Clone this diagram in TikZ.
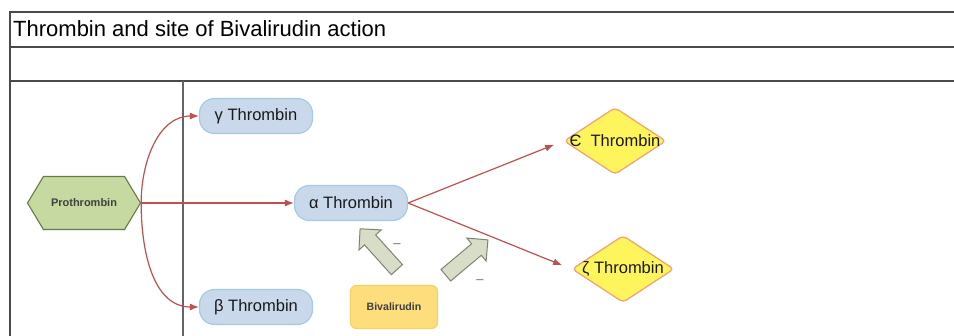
\documentclass[tikz,border=0pt]{standalone}
\usepackage{fontspec}
\setmainfont{Liberation Sans}
\usepackage{xcolor}
\usetikzlibrary{shapes,arrows.meta,positioning}

\definecolor{thrblue}{HTML}{C9D8EA}
\definecolor{thrblueline}{HTML}{A4CCE0}
\definecolor{progreen}{HTML}{C5D9A0}
\definecolor{progreenline}{HTML}{667A45}
\definecolor{bivyellow}{HTML}{FDDD7C}
\definecolor{bivline}{HTML}{F6D35E}
\definecolor{diayellow}{HTML}{FEF45C}
\definecolor{dialine}{HTML}{F0A072}
\definecolor{arrred}{HTML}{C0504D}
\definecolor{blockfill}{HTML}{D7DDC7}
\definecolor{blockline}{HTML}{7E8470}
\definecolor{framegray}{HTML}{4A4A4A}

\begin{document}
\begin{tikzpicture}[x=1pt,y=-1pt,
    thr/.style={rectangle, rounded corners=15pt, draw=thrblueline, line width=1.2pt, fill=thrblue,
        minimum width=113pt, minimum height=35pt, text=black!90, font=\fontsize{16.5}{19}\selectfont},
    dia/.style={diamond, draw=dialine, line width=1.2pt, fill=diayellow, rounded corners=4pt,
        minimum width=102pt, minimum height=67pt, inner sep=0pt},
    dialabel/.style={text=black!90, font=\fontsize{16.5}{19}\selectfont},
    flow/.style={-{Latex[length=9pt,width=7pt]}, arrred, line width=1.2pt},
    block/.style={single arrow, draw=blockline, fill=blockfill, line width=1pt, inner sep=7pt,
        single arrow head extend=7.5pt, minimum height=55pt},
    minus/.style={text=black!60, font=\fontsize{13}{15}\selectfont}
]
    \useasboundingbox (0,0) rectangle (954,336);
    \fill[white] (0,0) rectangle (954,336);

    % Frame
    \draw[framegray, line width=2pt] (954,12) -- (10,12) -- (10,336);
    \draw[framegray, line width=2pt] (10,47) -- (954,47);
    \draw[framegray, line width=2pt] (10,81) -- (954,81);
    \draw[framegray!85, line width=1.2pt] (183,81) -- (183,336);
    \node[anchor=west, inner sep=2pt, font=\fontsize{22}{26}\selectfont] (title) at (11,29) {Thrombin and site of Bivalirudin action};

    % Prothrombin
    \node[signal, signal to=west and east, signal pointer angle=118, draw=progreenline, line width=1.1pt,
        fill=progreen, minimum width=113pt, minimum height=53pt, text=black!75,
        font=\fontsize{11}{13}\selectfont\bfseries] (pro) at (84,203) {Prothrombin};

    % Thrombins
    \node[thr] (gamma) at (256,116) {γ Thrombin};
    \node[thr] (alpha) at (351,203) {α Thrombin};
    \node[thr] (beta) at (256,307) {β Thrombin};
    \node[dia, label={[dialabel]center:Є\ \ Thrombin}] (eps) at (615,141) {};
    \node[dia, label={[dialabel]center:ζ Thrombin}] (zeta) at (623,269) {};

    % Bivalirudin
    \node[rectangle, rounded corners=6pt, draw=bivline, line width=1.2pt, fill=bivyellow,
        minimum width=87pt, minimum height=43pt, text=black!75,
        font=\fontsize{10.6}{13}\selectfont\bfseries] (biv) at (394,307) {Bivalirudin};

    % Conversion
    \draw[flow] (pro.east) to[out=90,in=180] (gamma.west);
    \draw[flow] (pro.east) to[out=-90,in=180] (beta.west);
    \draw[flow] (pro.east) -- (alpha.west);
    \draw[flow, shorten >=10pt] (alpha.east) -- (eps.west);
    \draw[flow, shorten >=10pt] (alpha.east) -- (zeta.west);

    % Site of action
    \node[block, rotate=132] (blkalpha) at (381,252) {};
    \node[block, rotate=40] (blkzeta) at (464,260) {};
    \node[minus] (minusa) at (397,246) {–};
    \node[minus] (minusb) at (480,282) {–};
\end{tikzpicture}
\end{document}
